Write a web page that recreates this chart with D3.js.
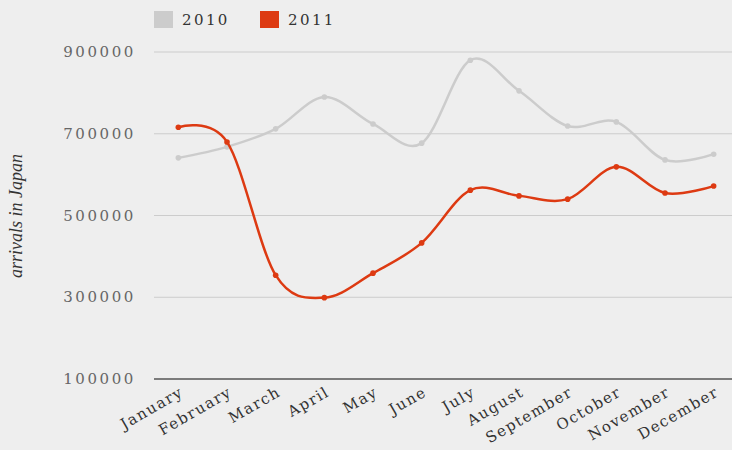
<!DOCTYPE html>
<html>
<head>
<meta charset="utf-8">
<script src="https://cdn.jsdelivr.net/npm/d3@7"></script>
<style>
  html, body { margin: 0; padding: 0; background: #eeeeee; }
  svg { display: block; }
</style>
</head>
<body>
<div id="chart"></div>
<script>
const months = ['January', 'February', 'March', 'April', 'May', 'June', 'July',
  'August', 'September', 'October', 'November', 'December'];
const arrivals2010 = [641000, 668000, 712000, 790000, 724000, 677000, 880000, 805000, 719000, 729000, 636000, 650000];
const arrivals2011 = [716000, 680000, 354000, 299000, 359000, 433000, 562000, 548000, 540000, 619000, 555000, 572000];
const yTicks = [100000, 300000, 500000, 700000, 900000];
const seriesNames = ['2010', '2011'];
const seriesColors = ['#cccccc', '#dd3a12'];

const width = 732, height = 450;
const svg = d3.select('#chart').append('svg')
  .attr('width', width)
  .attr('height', height);

svg.append('rect').attr('width', width).attr('height', height).attr('fill', '#eeeeee');

const x = d3.scaleBand().domain(months).range([154, 738]);
const y = d3.scaleLinear().domain([100000, 900000]).range([379, 52]);
const cx = m => x(m) + x.bandwidth() / 2;

const labelFont = '"DejaVu Serif", serif';

// gridlines
svg.append('g')
  .selectAll('line')
  .data(yTicks.slice(1))
  .join('line')
  .attr('x1', 154).attr('x2', 732)
  .attr('y1', d => y(d)).attr('y2', d => y(d))
  .attr('stroke', '#cccccc')
  .attr('stroke-width', 1);

// baseline
svg.append('line')
  .attr('x1', 154).attr('x2', 732)
  .attr('y1', y(100000)).attr('y2', y(100000))
  .attr('stroke', '#555555')
  .attr('stroke-width', 1.5);

// y labels
svg.append('g')
  .selectAll('text')
  .data(yTicks)
  .join('text')
  .attr('x', 136)
  .attr('y', d => y(d) + 5)
  .attr('text-anchor', 'end')
  .attr('font-family', labelFont)
  .attr('font-size', 15)
  .attr('letter-spacing', 2.6)
  .attr('fill', '#666666')
  .text(d => d);

// x labels
svg.append('g')
  .selectAll('text')
  .data(months)
  .join('text')
  .attr('text-anchor', 'end')
  .attr('transform', m => `translate(${cx(m) + 6},${395}) rotate(-30)`)
  .attr('font-family', labelFont)
  .attr('font-size', 15)
  .attr('letter-spacing', 1.5)
  .attr('fill', '#333333')
  .text(m => m);

// y title
svg.append('text')
  .attr('transform', 'translate(22,216) rotate(-90)')
  .attr('text-anchor', 'middle')
  .attr('font-family', '"Liberation Serif", serif')
  .attr('font-style', 'italic')
  .attr('font-size', 18)
  .attr('fill', '#333333')
  .text('arrivals in Japan');

// lines
const line = d3.line()
  .x((d, i) => cx(months[i]))
  .y(d => y(d))
  .curve(d3.curveCardinal.tension(0));

[arrivals2010, arrivals2011].forEach((vals, s) => {
  const g = svg.append('g');
  g.append('path')
    .datum(vals)
    .attr('d', line)
    .attr('fill', 'none')
    .attr('stroke', seriesColors[s])
    .attr('stroke-width', 2.5);
  g.selectAll('circle')
    .data(vals)
    .join('circle')
    .attr('cx', (d, i) => cx(months[i]))
    .attr('cy', d => y(d))
    .attr('r', 2.8)
    .attr('fill', seriesColors[s]);
});

// legend
const legend = svg.append('g');
seriesNames.forEach((name, i) => {
  const lx = 154 + i * 106;
  legend.append('rect')
    .attr('x', lx).attr('y', 11)
    .attr('width', 19).attr('height', 17)
    .attr('fill', seriesColors[i]);
  legend.append('text')
    .attr('x', lx + 28).attr('y', 25)
    .attr('font-family', labelFont)
    .attr('font-size', 15)
    .attr('letter-spacing', 2.4)
    .attr('fill', '#333333')
    .text(name);
});
</script>
</body>
</html>
